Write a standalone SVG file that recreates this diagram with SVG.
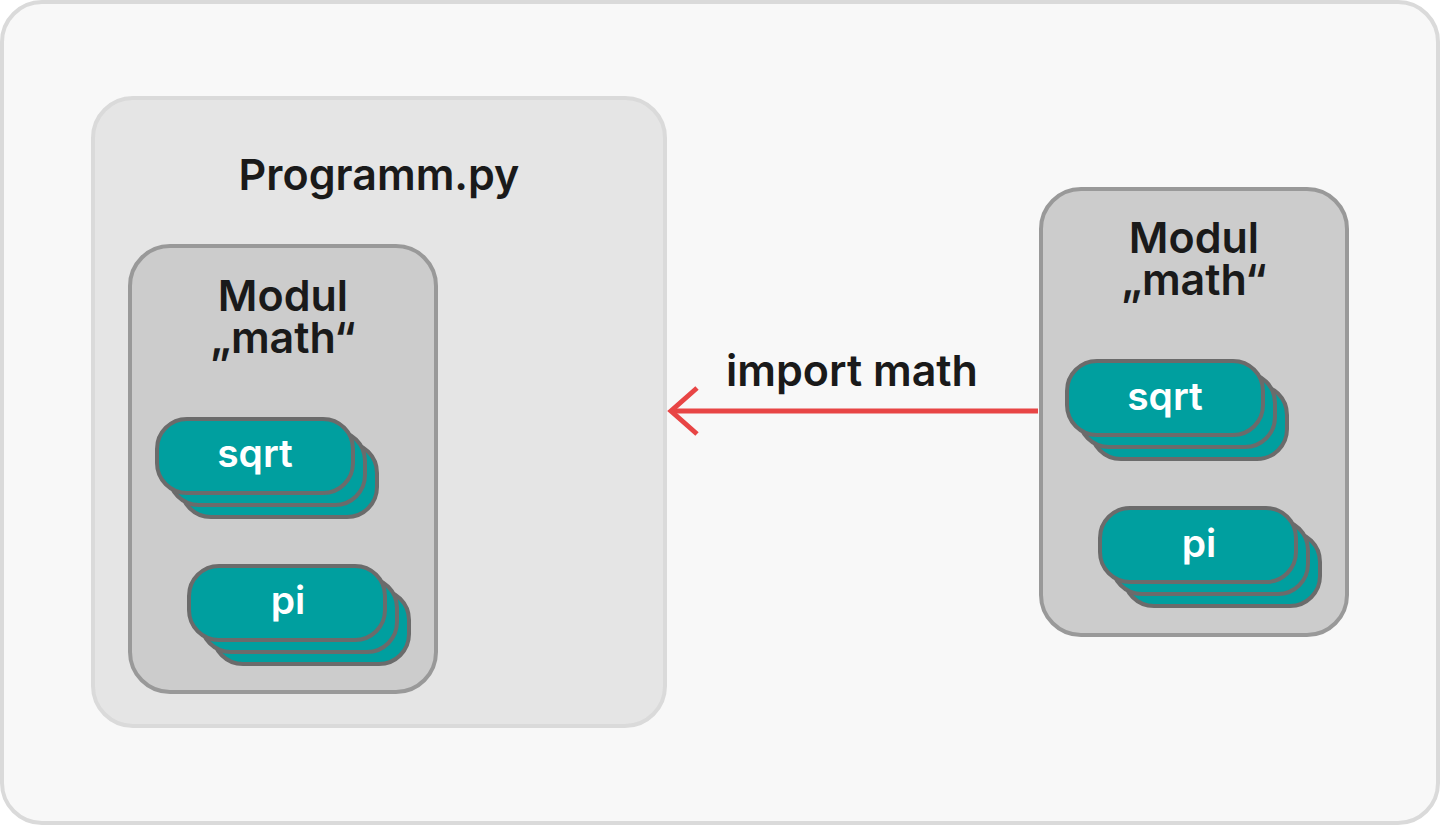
<svg xmlns="http://www.w3.org/2000/svg" width="1440" height="825" viewBox="0 0 1440 825">
<style>
.t{font-family:Inter,"Noto Sans","Liberation Sans",sans-serif;font-weight:600;text-anchor:middle}
.dark{fill:#1a1a1a}
.pill{fill:#009f9f;stroke:#6b6b6b;stroke-width:4}
.mod{fill:#cccccc;stroke:#999999;stroke-width:4}
.pt{fill:#ffffff;font-size:39px}
</style>
<defs>
<g id="stackPill">
<rect class="pill" x="24" y="24" width="196" height="74" rx="30"/>
<rect class="pill" x="12" y="12" width="196" height="74" rx="30"/>
<rect class="pill" x="0" y="0" width="196" height="74" rx="30"/>
</g>
</defs>
<rect x="2" y="2" width="1436" height="821" rx="40" fill="#f8f8f8" stroke="#dadada" stroke-width="4"/>
<g id="programm">
<rect x="93" y="98" width="572" height="628" rx="40" fill="#e5e5e5" stroke="#dadada" stroke-width="4"/>
<text class="t dark" x="379" y="190" font-size="43">Programm.py</text>
</g>
<g id="modul-left">
<rect class="mod" x="130" y="246" width="306" height="446" rx="40"/>
<text class="t dark" x="283" y="311" font-size="43">Modul</text>
<text class="t dark" x="283" y="353" font-size="43">„math“</text>
</g>
<g id="sqrt-left">
<use href="#stackPill" x="157" y="419"/>
<text class="t pt" x="255" y="467">sqrt</text>
</g>
<g id="pi-left">
<use href="#stackPill" x="189" y="566"/>
<text class="t pt" x="288" y="614">pi</text>
</g>
<g id="modul-right">
<rect class="mod" x="1041" y="189" width="306" height="446" rx="40"/>
<text class="t dark" x="1194" y="253" font-size="43">Modul</text>
<text class="t dark" x="1194" y="295" font-size="43">„math“</text>
</g>
<g id="sqrt-right">
<use href="#stackPill" x="1067" y="361"/>
<text class="t pt" x="1165" y="410">sqrt</text>
</g>
<g id="pi-right">
<use href="#stackPill" x="1100" y="508"/>
<text class="t pt" x="1199" y="557">pi</text>
</g>
<g id="connectors">
<line x1="1038" y1="411" x2="672" y2="411" stroke="#e84545" stroke-width="5"/>
<polyline points="697,388 671,411 697,434" fill="none" stroke="#e84545" stroke-width="5"/>
<text class="t dark" x="852" y="386" font-size="43">import math</text>
</g>
</svg>
